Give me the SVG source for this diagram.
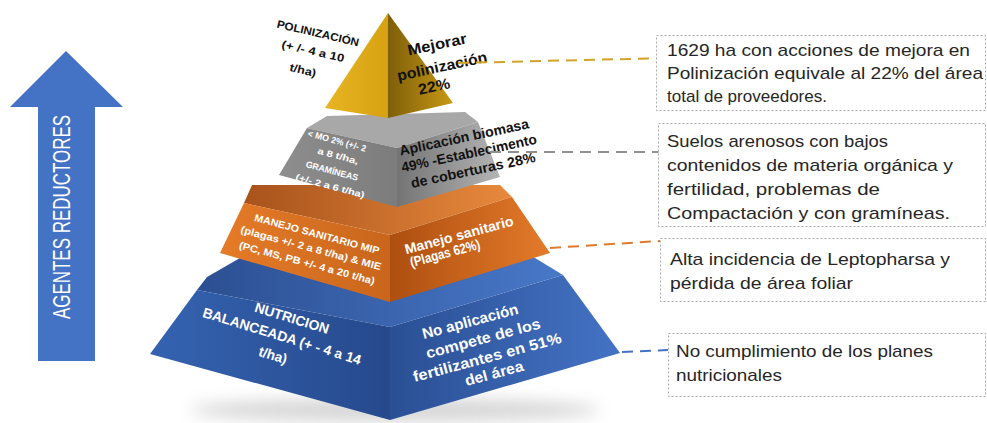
<svg xmlns="http://www.w3.org/2000/svg" width="987" height="423" viewBox="0 0 987 423">
<style>
.pk{font-family:"Liberation Sans",Arial,sans-serif;font-weight:bold;text-anchor:middle;dominant-baseline:central}
.bk{fill:#111}
.wh{fill:#fff}
.box{fill:#fff;stroke:#a9a9a9;stroke-width:1;stroke-dasharray:2 2}
.bt{font-family:"Liberation Sans",Arial,sans-serif;font-size:17px;fill:#262626}
.cn{fill:none;stroke-width:2;stroke-dasharray:11 7}
</style>
<defs>
<filter id="blur" x="-20%" y="-100%" width="140%" height="300%"><feGaussianBlur stdDeviation="8"/></filter>
<linearGradient id="goldL" gradientUnits="userSpaceOnUse" x1="325" y1="0" x2="388" y2="0"><stop offset="0" stop-color="#E8B422"/><stop offset="1" stop-color="#D6A212"/></linearGradient>
<linearGradient id="goldR" gradientUnits="userSpaceOnUse" x1="388" y1="0" x2="453" y2="0"><stop offset="0" stop-color="#7E5E0A"/><stop offset="1" stop-color="#C89914"/></linearGradient>
<linearGradient id="grayL" gradientUnits="userSpaceOnUse" x1="279" y1="0" x2="397" y2="0"><stop offset="0" stop-color="#8e8e8e"/><stop offset="1" stop-color="#7c7c7c"/></linearGradient>
<linearGradient id="grayR" gradientUnits="userSpaceOnUse" x1="397" y1="0" x2="500" y2="0"><stop offset="0" stop-color="#747474"/><stop offset="1" stop-color="#b4b4b4"/></linearGradient>
<linearGradient id="orT" gradientUnits="userSpaceOnUse" x1="244" y1="0" x2="512" y2="0"><stop offset="0" stop-color="#A8531C"/><stop offset="1" stop-color="#E8893C"/></linearGradient>
<linearGradient id="orL" gradientUnits="userSpaceOnUse" x1="220" y1="0" x2="390" y2="0"><stop offset="0" stop-color="#E57B28"/><stop offset="1" stop-color="#C9661C"/></linearGradient>
<linearGradient id="orR" gradientUnits="userSpaceOnUse" x1="390" y1="0" x2="550" y2="0"><stop offset="0" stop-color="#AE4F10"/><stop offset="1" stop-color="#E47A2A"/></linearGradient>
<linearGradient id="blT" gradientUnits="userSpaceOnUse" x1="197" y1="0" x2="563" y2="0"><stop offset="0" stop-color="#2C4F92"/><stop offset="1" stop-color="#4878C8"/></linearGradient>
<linearGradient id="blL" gradientUnits="userSpaceOnUse" x1="150" y1="0" x2="390" y2="0"><stop offset="0" stop-color="#3563B1"/><stop offset="1" stop-color="#26498C"/></linearGradient>
<linearGradient id="blR" gradientUnits="userSpaceOnUse" x1="390" y1="0" x2="620" y2="0"><stop offset="0" stop-color="#2A4F94"/><stop offset="1" stop-color="#4473C4"/></linearGradient>
</defs>
<rect width="987" height="423" fill="#fff"/>

<g id="arrow">
<polygon points="66,51 123,107 95,107 95,361 38,361 38,107 10,107" fill="#4472C4"/>
<text transform="translate(70,217) rotate(-90)" x="0" y="0" text-anchor="middle" font-family="Liberation Sans, Arial, sans-serif" font-size="24" fill="#fff" textLength="204" lengthAdjust="spacingAndGlyphs">AGENTES REDUCTORES</text>
</g>

<g id="shadow"><ellipse cx="395" cy="410" rx="205" ry="12" fill="#9a9a9a" opacity="0.4" filter="url(#blur)"/></g>

<g id="tier-blue">
<polygon points="197,290 207,277 240,258 535,258 563,275 390,327" fill="url(#blT)"/>
<polygon points="197,290 390,327 390,420 150,354" fill="url(#blL)"/>
<polygon points="390,327 563,275 620,353 390,420" fill="url(#blR)"/>
<g class="pk wh" font-size="14">
<text transform="translate(292,318) rotate(17)" textLength="77" lengthAdjust="spacingAndGlyphs">NUTRICION</text>
<text transform="translate(282,336) rotate(17)" textLength="165" lengthAdjust="spacingAndGlyphs">BALANCEADA (+ - 4 a 14</text>
<text transform="translate(273,355) rotate(17)" textLength="29" lengthAdjust="spacingAndGlyphs">t/ha)</text>
</g>
<g class="pk wh" font-size="15">
<text transform="translate(470,321) rotate(-15)" textLength="99" lengthAdjust="spacingAndGlyphs">No aplicación</text>
<text transform="translate(483,338) rotate(-15)" textLength="118" lengthAdjust="spacingAndGlyphs">compete de los</text>
<text transform="translate(487,357) rotate(-15)" textLength="153" lengthAdjust="spacingAndGlyphs">fertilizantes en 51%</text>
<text transform="translate(494,373) rotate(-15)" textLength="60" lengthAdjust="spacingAndGlyphs">del área</text>
</g>
</g>

<g id="tier-orange">
<polygon points="252,185 500,185 512,197 390,235 244,203" fill="url(#orT)"/>
<polygon points="244,203 390,235 390,302 220,253" fill="url(#orL)"/>
<polygon points="390,235 512,197 550,253 390,302" fill="url(#orR)"/>
<g class="pk wh" font-size="10">
<text transform="translate(317,234) rotate(15)" textLength="129" lengthAdjust="spacingAndGlyphs">MANEJO SANITARIO MIP</text>
<text transform="translate(311,248) rotate(15)" textLength="145" lengthAdjust="spacingAndGlyphs">(plagas +/- 2 a 8 t/ha) &amp; MIE</text>
<text transform="translate(307,263) rotate(15)" textLength="140" lengthAdjust="spacingAndGlyphs">(PC, MS, PB +/- 4 a 20 t/ha)</text>
</g>
<g class="pk wh" font-size="14">
<text transform="translate(459,235) rotate(-15)" textLength="112" lengthAdjust="spacingAndGlyphs">Manejo sanitario</text>
<text transform="translate(445,253) rotate(-15)" textLength="72" lengthAdjust="spacingAndGlyphs">(Plagas 62%)</text>
</g>
</g>

<g id="tier-gray">
<polygon points="327,116 465,112 478,122 397,148 307,128" fill="#a8a8a8"/>
<polygon points="307,128 397,148 397,207 279,175" fill="url(#grayL)"/>
<polygon points="397,148 478,122 500,177 397,207" fill="url(#grayR)"/>
<g class="pk wh" font-size="9">
<text transform="translate(337,141) rotate(15)" textLength="60" lengthAdjust="spacingAndGlyphs">&lt; MO 2% (+/- 2</text>
<text transform="translate(338,156) rotate(15)" textLength="42" lengthAdjust="spacingAndGlyphs">a 8 t/ha,</text>
<text transform="translate(332,171) rotate(15)" textLength="54" lengthAdjust="spacingAndGlyphs">GRAMÍNEAS</text>
<text transform="translate(330,186) rotate(15)" textLength="71" lengthAdjust="spacingAndGlyphs">(+/- 2 a 6 t/ha)</text>
</g>
<g class="pk bk" font-size="14">
<text transform="translate(464,137) rotate(-12)" textLength="132" lengthAdjust="spacingAndGlyphs">Aplicación biomasa</text>
<text transform="translate(469,153) rotate(-12)" textLength="138" lengthAdjust="spacingAndGlyphs">49% -Establecimento</text>
<text transform="translate(473,170) rotate(-12)" textLength="127" lengthAdjust="spacingAndGlyphs">de coberturas 28%</text>
</g>
</g>

<g id="tier-gold">
<polygon points="388,13 325,108 388,118" fill="url(#goldL)"/>
<polygon points="388,13 388,118 453,103" fill="url(#goldR)"/>
<g class="pk bk" font-size="11">
<text transform="translate(318,33) rotate(13)" textLength="84" lengthAdjust="spacingAndGlyphs">POLINIZACIÓN</text>
<text transform="translate(313,51) rotate(13)" textLength="64" lengthAdjust="spacingAndGlyphs">(+ /- 4 a 10</text>
<text transform="translate(303,70) rotate(13)" textLength="27" lengthAdjust="spacingAndGlyphs">t/ha)</text>
</g>
<g class="pk bk" font-size="15">
<text transform="translate(437,44) rotate(-12)" textLength="60" lengthAdjust="spacingAndGlyphs">Mejorar</text>
<text transform="translate(442,66) rotate(-12)" textLength="92" lengthAdjust="spacingAndGlyphs">polinización</text>
<text transform="translate(434,86) rotate(-12)" textLength="32" lengthAdjust="spacingAndGlyphs">22%</text>
</g>
</g>

<g id="connectors">
<line class="cn" x1="458" y1="63" x2="668" y2="58" stroke="#D1A32A"/>
<line class="cn" x1="490" y1="152" x2="665" y2="152" stroke="#8f8f8f"/>
<line class="cn" x1="550" y1="248" x2="660" y2="241" stroke="#E07A2E"/>
<line class="cn" x1="622" y1="352" x2="668" y2="350" stroke="#4472C4"/>
</g>

<g id="box1">
<rect class="box" x="656.5" y="35.5" width="329" height="75"/>
<text class="bt" x="667" y="56" textLength="303" lengthAdjust="spacingAndGlyphs">1629 ha con acciones de mejora en</text>
<text class="bt" x="667" y="79" textLength="316" lengthAdjust="spacingAndGlyphs">Polinización equivale al 22% del área</text>
<text class="bt" x="667" y="102" textLength="160" lengthAdjust="spacingAndGlyphs">total de proveedores.</text>
</g>
<g id="box2">
<rect class="box" x="658.5" y="123.5" width="327" height="103"/>
<text class="bt" x="667" y="147" textLength="221" lengthAdjust="spacingAndGlyphs">Suelos arenosos con bajos</text>
<text class="bt" x="667" y="171" textLength="286" lengthAdjust="spacingAndGlyphs">contenidos de materia orgánica y</text>
<text class="bt" x="667" y="195" textLength="213" lengthAdjust="spacingAndGlyphs">fertilidad,  problemas de</text>
<text class="bt" x="667" y="219" textLength="283" lengthAdjust="spacingAndGlyphs">Compactación y con gramíneas.</text>
</g>
<g id="box3">
<rect class="box" x="660.5" y="238.5" width="325" height="63"/>
<text class="bt" x="670" y="265" textLength="280" lengthAdjust="spacingAndGlyphs">Alta incidencia de Leptopharsa y</text>
<text class="bt" x="670" y="289" textLength="183" lengthAdjust="spacingAndGlyphs">pérdida de área foliar</text>
</g>
<g id="box4">
<rect class="box" x="668.5" y="333.5" width="317" height="63"/>
<text class="bt" x="676" y="357" textLength="257" lengthAdjust="spacingAndGlyphs">No cumplimiento de los planes</text>
<text class="bt" x="676" y="381" textLength="106" lengthAdjust="spacingAndGlyphs">nutricionales</text>
</g>
</svg>
